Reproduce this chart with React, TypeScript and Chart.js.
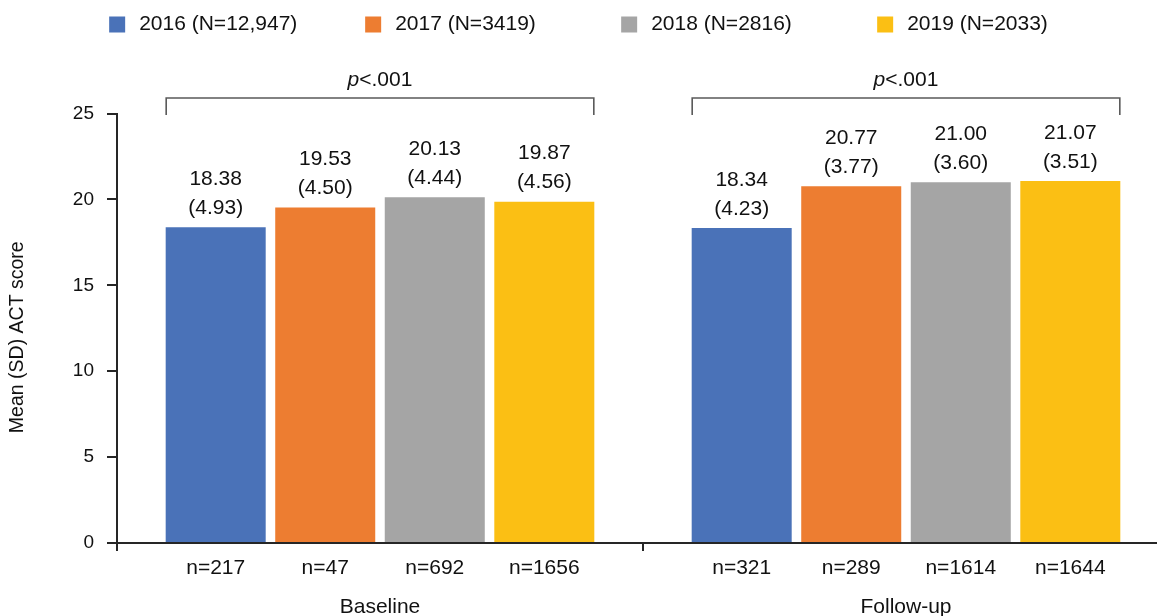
import React, { useEffect, useRef } from "react";
import { Chart, registerables } from "chart.js";

Chart.register(...registerables);

// ---------- data ----------
const categories = ["Baseline", "Follow-up"];
const seriesLabels = ["2016 (N=12,947)", "2017 (N=3419)", "2018 (N=2816)", "2019 (N=2033)"];
const seriesColors = ["#4A72B8", "#ED7D31", "#A5A5A5", "#FBBF14"];

const means2016 = [18.38, 18.34];
const means2017 = [19.53, 20.77];
const means2018 = [20.13, 21.0];
const means2019 = [19.87, 21.07];

const sd2016 = [4.93, 4.23];
const sd2017 = [4.5, 3.77];
const sd2018 = [4.44, 3.6];
const sd2019 = [4.56, 3.51];

const n2016 = [217, 321];
const n2017 = [47, 289];
const n2018 = [692, 1614];
const n2019 = [1656, 1644];

const pValues = ["<.001", "<.001"];

const yMin = 0;
const yMax = 25;
const yStep = 5;
const yTitle = "Mean (SD) ACT score";

const allMeans = [means2016, means2017, means2018, means2019];
const allSds = [sd2016, sd2017, sd2018, sd2019];
const allNs = [n2016, n2017, n2018, n2019];

// ---------- style ----------
const FONT = "'Liberation Sans', Arial, Helvetica, sans-serif";
const TEXT = "#111111";
const AXIS = "#262626";
const VIEW_W = 1157;
const CANVAS_W = 1180;
const CANVAS_H = 616;

const annotationsPlugin = {
  id: "annotations",
  afterDatasetsDraw(chart: any) {
    const { ctx, chartArea } = chart;
    ctx.save();
    ctx.fillStyle = TEXT;
    ctx.textAlign = "center";
    ctx.textBaseline = "middle";
    ctx.font = `21px ${FONT}`;
    chart.data.datasets.forEach((ds: any, i: number) => {
      const meta = chart.getDatasetMeta(i);
      meta.data.forEach((el: any, j: number) => {
        const x = el.x;
        const top = el.y;
        ctx.fillText(allMeans[i][j].toFixed(2), x, top - 48);
        ctx.fillText(`(${allSds[i][j].toFixed(2)})`, x, top - 19);
        ctx.fillText(`n=${allNs[i][j]}`, x, chartArea.bottom + 25);
      });
    });

    // brackets + p values
    const first = chart.getDatasetMeta(0);
    const last = chart.getDatasetMeta(chart.data.datasets.length - 1);
    categories.forEach((_c, j) => {
      const b0 = first.data[j];
      const b1 = last.data[j];
      const left = b0.x - b0.width / 2 + 0.5;
      const right = b1.x + b1.width / 2 - 0.5;
      const yTop = chartArea.top - 15.5;
      const yLeg = chartArea.top + 1.5;
      ctx.beginPath();
      ctx.strokeStyle = "#5a5a5a";
      ctx.lineWidth = 1.6;
      ctx.moveTo(left, yLeg);
      ctx.lineTo(left, yTop);
      ctx.lineTo(right, yTop);
      ctx.lineTo(right, yLeg);
      ctx.stroke();

      const cx = (left + right) / 2;
      const ty = chartArea.top - 33.5;
      ctx.font = `italic 21px ${FONT}`;
      const wp = ctx.measureText("p").width;
      ctx.font = `21px ${FONT}`;
      const wr = ctx.measureText(pValues[j]).width;
      const start = cx - (wp + wr) / 2;
      ctx.textAlign = "left";
      ctx.font = `italic 21px ${FONT}`;
      ctx.fillText("p", start, ty);
      ctx.font = `21px ${FONT}`;
      ctx.fillText(pValues[j], start + wp, ty);
      ctx.textAlign = "center";
    });
    ctx.restore();
  },
  afterDraw(chart: any) {
    const { ctx, chartArea } = chart;
    // y-axis title
    ctx.save();
    ctx.fillStyle = TEXT;
    ctx.font = `19.5px ${FONT}`;
    ctx.textAlign = "center";
    ctx.textBaseline = "middle";
    ctx.translate(18, (chartArea.top + chartArea.bottom) / 2 + 9);
    ctx.rotate(-Math.PI / 2);
    ctx.fillText(yTitle, 0, 0);
    ctx.restore();

    // legend
    ctx.save();
    ctx.font = `21px ${FONT}`;
    const box = 16;
    const gap = 14;
    const pitch = 256;
    const ds = chart.data.datasets;
    const lastW = box + gap + ctx.measureText(ds[ds.length - 1].label).width;
    const total = pitch * (ds.length - 1) + lastW;
    let x = VIEW_W / 2 - total / 2;
    const cy = 24.5;
    ds.forEach((d: any) => {
      ctx.fillStyle = d.backgroundColor;
      ctx.fillRect(x, cy - box / 2, box, box);
      ctx.fillStyle = TEXT;
      ctx.textAlign = "left";
      ctx.textBaseline = "middle";
      ctx.fillText(d.label, x + box + gap, cy);
      x += pitch;
    });
    ctx.restore();
  },
};

export default function App() {
  const ref = useRef<HTMLCanvasElement | null>(null);

  useEffect(() => {
    if (!ref.current) return;
    const chart = new Chart(ref.current, {
      type: "bar",
      data: {
        labels: categories,
        datasets: seriesLabels.map((label, i) => ({
          label,
          data: allMeans[i],
          backgroundColor: seriesColors[i],
          borderWidth: 0,
          categoryPercentage: 0.833,
          barPercentage: 0.913,
        })),
      },
      options: {
        animation: false,
        responsive: false,
        devicePixelRatio: 1,
        layout: { padding: { top: 113.5, right: CANVAS_W - 1169, bottom: 0, left: 0 } },
        plugins: {
          legend: { display: false },
          tooltip: { enabled: false },
        },
        scales: {
          x: {
            afterFit: (s: any) => {
              s.height = 73;
            },
            border: { display: true, color: AXIS, width: 2 },
            grid: {
              offset: true,
              drawOnChartArea: false,
              drawTicks: true,
              tickLength: 8,
              color: AXIS,
              lineWidth: 2,
            },
            ticks: {
              color: TEXT,
              font: { family: FONT, size: 21 },
              padding: 44,
              maxRotation: 0,
            },
          },
          y: {
            min: yMin,
            max: yMax,
            afterFit: (s: any) => {
              s.width = 117;
            },
            border: { display: true, color: AXIS, width: 2 },
            grid: {
              drawOnChartArea: false,
              drawTicks: true,
              tickLength: 10,
              color: AXIS,
              lineWidth: 2,
            },
            ticks: {
              stepSize: yStep,
              color: TEXT,
              font: { family: FONT, size: 19 },
              padding: 13,
            },
            title: { display: false },
          },
        },
      },
      plugins: [annotationsPlugin],
    });
    return () => chart.destroy();
  }, []);

  return (
    <div
      style={{
        position: "fixed",
        left: 0,
        top: 0,
        width: VIEW_W,
        height: CANVAS_H,
        overflow: "hidden",
        background: "#fff",
      }}
    >
      <canvas
        ref={ref}
        width={CANVAS_W}
        height={CANVAS_H}
        style={{ display: "block", width: CANVAS_W, height: CANVAS_H }}
      />
    </div>
  );
}
